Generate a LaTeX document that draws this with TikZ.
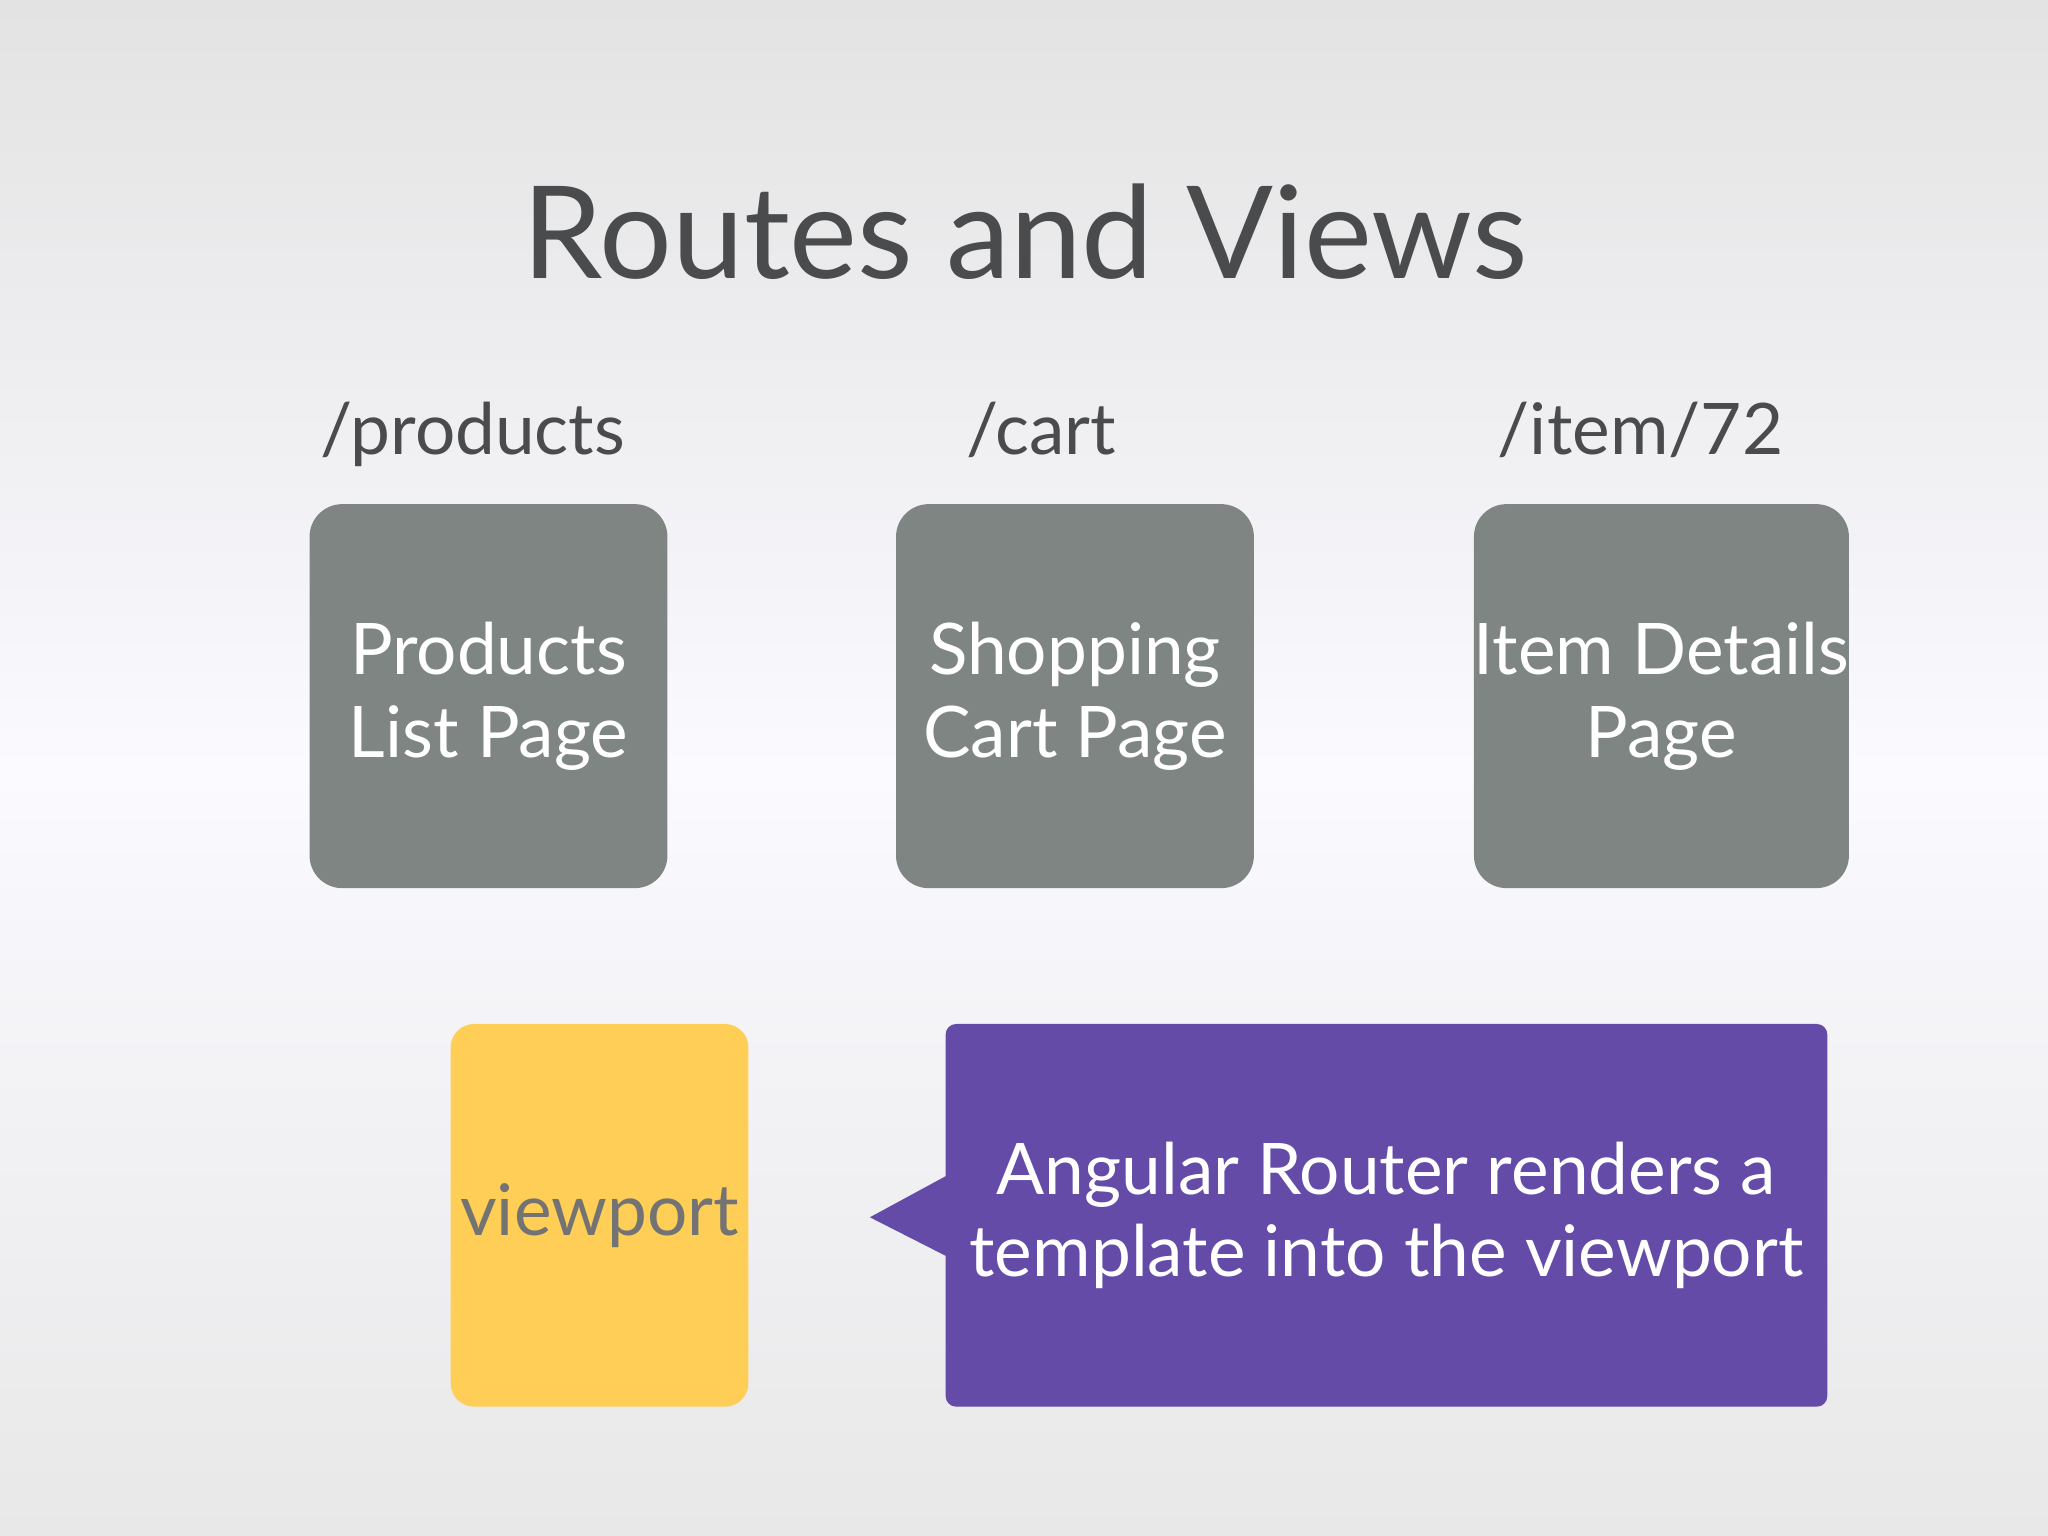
\documentclass[tikz,border=0pt]{standalone}
\usepackage{fontspec}
\setmainfont{Lato}
\begin{document}
\begin{tikzpicture}[
  page/.style={rounded corners=0.25cm, fill=pagegray, draw=none, inner sep=0pt, minimum width=2.74cm, minimum height=2.94cm, align=center, text=white, font=\fontsize{15.5}{18}\selectfont},
  route/.style={text=titlegray, font=\fontsize{15.5}{18}\selectfont, anchor=base}
]
\definecolor{pagegray}{HTML}{7F8582}
\definecolor{titlegray}{HTML}{4A4B4D}
\definecolor{vp}{HTML}{FECE57}
\definecolor{purp}{HTML}{654BA8}
\fill[top color=gray!22, bottom color=gray!18, middle color=blue!2] (0,0) rectangle (15.68,11.76);
\useasboundingbox (0,0) rectangle (15.68,11.76);
\node[anchor=base, text=titlegray, font=\fontsize{28}{32}\selectfont] (title) at (7.85,9.63) {Routes and Views};
\node[route] (r1) at (3.62,8.28) {/products};
\node[route] (r2) at (7.97,8.28) {/cart};
\node[route] (r3) at (12.56,8.28) {/item/72};
\node[page] (p1) at (3.74,6.43) {Products\\List Page};
\node[page] (p2) at (8.23,6.43) {Shopping\\Cart Page};
\node[page] (p3) at (12.72,6.43) {Item Details\\Page};
\node[rounded corners=0.18cm, fill=vp, inner sep=0pt, minimum width=2.28cm, minimum height=2.93cm, text=gray!90!black, font=\fontsize{15.5}{18}\selectfont] (vp) at (4.59,2.455) {viewport};
\fill[purp] (7.25,2.76) -- (6.66,2.44) -- (7.25,2.14) -- cycle;
\node[rounded corners=0.08cm, fill=purp, inner sep=0pt, minimum width=6.75cm, minimum height=2.93cm, text=white, align=center, font=\fontsize{15.5}{18}\selectfont] (msg) at (10.615,2.455) {Angular Router renders a\\template into the viewport};
\end{tikzpicture}
\end{document}
